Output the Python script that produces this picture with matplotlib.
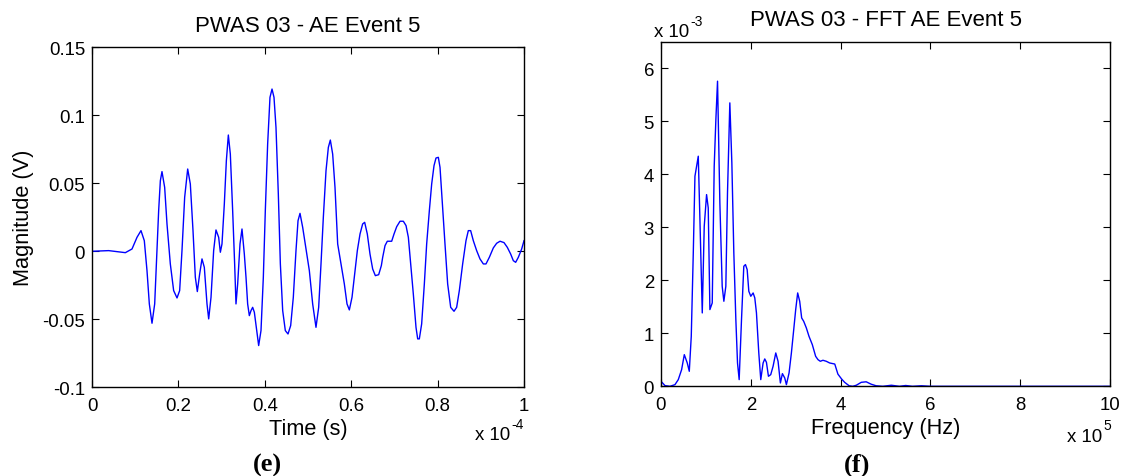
import matplotlib
matplotlib.use("Agg")
import matplotlib.pyplot as plt

# ---------------- data ----------------
# Left: AE waveform, time in units of 1e-4 s, magnitude in V
time_e4 = [0.0, 0.0386, 0.0772, 0.0926, 0.1042, 0.1134, 0.1211, 0.1273, 0.1327, 0.1389,
           0.1451, 0.1505, 0.1543, 0.1582, 0.1620, 0.1682, 0.1736, 0.1813, 0.1890, 0.1968,
           0.2029, 0.2083, 0.2145, 0.2215, 0.2276, 0.2338, 0.2392, 0.2438, 0.2492, 0.2546,
           0.2600, 0.2662, 0.2701, 0.2755, 0.2816, 0.2870, 0.2932, 0.2971, 0.3009, 0.3063,
           0.3110, 0.3156, 0.3202, 0.3256, 0.3302, 0.3333, 0.3372, 0.3426, 0.3472, 0.3526,
           0.3565, 0.3603, 0.3642, 0.3681, 0.3719, 0.3758, 0.3812, 0.3858, 0.3912, 0.3966,
           0.4012, 0.4066, 0.4120, 0.4167, 0.4213, 0.4259, 0.4313, 0.4360, 0.4414, 0.4475,
           0.4537, 0.4599, 0.4660, 0.4722, 0.4769, 0.4815, 0.4877, 0.4954, 0.5031, 0.5108,
           0.5185, 0.5247, 0.5301, 0.5355, 0.5417, 0.5471, 0.5517, 0.5571, 0.5625, 0.5687,
           0.5764, 0.5841, 0.5903, 0.5957, 0.6019, 0.6080, 0.6142, 0.6204, 0.6265, 0.6312,
           0.6373, 0.6435, 0.6497, 0.6559, 0.6636, 0.6698, 0.6729, 0.6783, 0.6836, 0.6937,
           0.6991, 0.7053, 0.7130, 0.7207, 0.7269, 0.7323, 0.7377, 0.7438, 0.7500, 0.7539,
           0.7577, 0.7631, 0.7693, 0.7747, 0.7809, 0.7863, 0.7917, 0.7963, 0.8017, 0.8056,
           0.8110, 0.8171, 0.8233, 0.8303, 0.8380, 0.8441, 0.8503, 0.8580, 0.8657, 0.8711,
           0.8765, 0.8827, 0.8904, 0.8981, 0.9059, 0.9120, 0.9198, 0.9290, 0.9367, 0.9445,
           0.9537, 0.9614, 0.9691, 0.9753, 0.9807, 0.9869, 0.9946, 1.0]
magnitude_v = [0.0, 0.0005, -0.0010, 0.0017, 0.0103, 0.0152, 0.0078, -0.0142, -0.0387, -0.0529,
               -0.0387, 0.0005, 0.0299, 0.0519, 0.0586, 0.0470, 0.0201, -0.0093, -0.0289, -0.0343,
               -0.0289, 0.0005, 0.0397, 0.0605, 0.0495, 0.0152, -0.0191, -0.0296, -0.0167, -0.0056,
               -0.0118, -0.0387, -0.0497, -0.0338, 0.0005, 0.0157, 0.0103, -0.0007, 0.0054, 0.0348,
               0.0666, 0.0855, 0.0715, 0.0299, -0.0093, -0.0387, -0.0240, 0.0054, 0.0164, -0.0020,
               -0.0191, -0.0387, -0.0473, -0.0436, -0.0412, -0.0448, -0.0583, -0.0693, -0.0583, -0.0191,
               0.0299, 0.0789, 0.1132, 0.1193, 0.1132, 0.0911, 0.0421, -0.0093, -0.0436, -0.0583,
               -0.0608, -0.0546, -0.0338, 0.0005, 0.0225, 0.0279, 0.0176, 0.0017, -0.0142, -0.0387,
               -0.0559, -0.0412, -0.0093, 0.0250, 0.0593, 0.0764, 0.0818, 0.0715, 0.0470, 0.0054,
               -0.0093, -0.0240, -0.0387, -0.0431, -0.0338, -0.0167, 0.0005, 0.0127, 0.0201, 0.0213,
               0.0127, -0.0020, -0.0130, -0.0179, -0.0172, -0.0105, -0.0044, 0.0042, 0.0074, 0.0074,
               0.0127, 0.0181, 0.0221, 0.0221, 0.0189, 0.0103, -0.0093, -0.0314, -0.0559, -0.0644,
               -0.0644, -0.0534, -0.0240, 0.0054, 0.0299, 0.0495, 0.0630, 0.0686, 0.0691, 0.0617,
               0.0348, 0.0054, -0.0240, -0.0412, -0.0441, -0.0412, -0.0289, -0.0093, 0.0078, 0.0152,
               0.0152, 0.0078, 0.0005, -0.0056, -0.0093, -0.0093, -0.0044, 0.0025, 0.0059, 0.0074,
               0.0064, 0.0029, -0.0020, -0.0069, -0.0081, -0.0044, 0.0017, 0.0078]

# Right: FFT, frequency in units of 1e5 Hz, amplitude in units of 1e-3
freq_e5 = [0.000, 0.089, 0.200, 0.311, 0.385, 0.459, 0.519, 0.585, 0.630, 0.674,
           0.719, 0.756, 0.793, 0.830, 0.867, 0.919, 0.963, 1.015, 1.052, 1.089,
           1.141, 1.185, 1.222, 1.259, 1.311, 1.363, 1.400, 1.444, 1.481, 1.533,
           1.578, 1.622, 1.667, 1.704, 1.741, 1.793, 1.844, 1.881, 1.919, 1.956,
           2.000, 2.052, 2.089, 2.126, 2.178, 2.222, 2.274, 2.311, 2.348, 2.393,
           2.444, 2.496, 2.556, 2.607, 2.659, 2.704, 2.756, 2.793, 2.852, 2.904,
           2.956, 3.000, 3.044, 3.089, 3.133, 3.178, 3.237, 3.296, 3.370, 3.444,
           3.496, 3.548, 3.607, 3.681, 3.756, 3.870, 3.940, 4.020, 4.090, 4.190,
           4.270, 4.350, 4.460, 4.570, 4.680, 4.790, 4.940, 5.130, 5.310, 5.450,
           5.600, 5.800, 6.000, 10.000]
fft_amp_e3 = [0.094, 0.013, 0.000, 0.031, 0.126, 0.314, 0.597, 0.440, 0.283, 0.943,
              2.516, 3.962, 4.151, 4.340, 3.145, 1.384, 3.019, 3.616, 3.365, 1.447,
              1.572, 4.151, 5.031, 5.755, 3.459, 1.887, 1.604, 1.887, 3.648, 5.346,
              4.214, 2.516, 1.258, 0.440, 0.126, 1.258, 2.264, 2.296, 2.201, 1.792,
              1.698, 1.761, 1.667, 1.384, 0.629, 0.126, 0.440, 0.516, 0.453, 0.189,
              0.220, 0.377, 0.629, 0.472, 0.063, 0.239, 0.157, 0.031, 0.252, 0.629,
              1.069, 1.447, 1.761, 1.604, 1.289, 1.226, 1.101, 0.943, 0.786, 0.566,
              0.503, 0.472, 0.491, 0.472, 0.440, 0.420, 0.230, 0.140, 0.075, 0.010,
              0.000, 0.020, 0.075, 0.085, 0.040, 0.010, 0.000, 0.020, 0.000, 0.015,
              0.000, 0.010, 0.000, 0.000]

left_xticks = [0, 0.2, 0.4, 0.6, 0.8, 1]
left_xticklabels = ["0", "0.2", "0.4", "0.6", "0.8", "1"]
left_yticks = [-0.1, -0.05, 0, 0.05, 0.1, 0.15]
left_yticklabels = ["-0.1", "-0.05", "0", "0.05", "0.1", "0.15"]
right_xticks = [0, 2, 4, 6, 8, 10]
right_xticklabels = ["0", "2", "4", "6", "8", "10"]
right_yticks = [0, 1, 2, 3, 4, 5, 6]
right_yticklabels = ["0", "1", "2", "3", "4", "5", "6"]

# ---------------- figure ----------------
W, H = 1124, 477
FONT = "Liberation Sans"
plt.rcParams["font.family"] = [FONT, "DejaVu Sans"]
fig = plt.figure(figsize=(W / 100, H / 100), dpi=100)

TICK_FS = 13.4
LABEL_FS = 15.7
TITLE_FS = 16.0
EXP_FS = 10.0
BLUE = "#0000ff"


def px(x, y):
    return x / W, 1 - y / H


def style(ax):
    ax.tick_params(direction="in", top=True, right=True, length=5, width=0.8,
                   labelsize=TICK_FS, colors="black")
    ax.tick_params(axis="x", pad=7)
    ax.tick_params(axis="y", pad=5)
    for s in ax.spines.values():
        s.set_linewidth(1.0)
        s.set_color("black")


# Left axes
axL = fig.add_axes([92 / W, 1 - 388.3 / H, (524 - 92) / W, (388.3 - 48.3) / H])
axL.plot(time_e4, magnitude_v, color=BLUE, lw=1.0)
axL.set_xlim(0, 1)
axL.set_ylim(-0.1, 0.15)
axL.set_xticks(left_xticks)
axL.set_xticklabels(left_xticklabels)
axL.set_yticks(left_yticks)
axL.set_yticklabels(left_yticklabels)
style(axL)
axL.set_title("PWAS 03 - AE Event 5", fontsize=TITLE_FS, pad=12)
axL.set_xlabel("Time (s)", fontsize=LABEL_FS, labelpad=3)
axL.set_ylabel("Magnitude (V)", fontsize=LABEL_FS, labelpad=6)

# Right axes
axR = fig.add_axes([661 / W, 1 - 387.3 / H, (1110 - 661) / W, (387.3 - 42.7) / H])
axR.plot(freq_e5, fft_amp_e3, color=BLUE, lw=1.0)
axR.set_xlim(0, 10)
axR.set_ylim(0, 6.5)
axR.set_xticks(right_xticks)
axR.set_xticklabels(right_xticklabels)
axR.set_yticks(right_yticks)
axR.set_yticklabels(right_yticklabels)
style(axR)
axR.set_title("PWAS 03 - FFT AE Event 5", fontsize=TITLE_FS, pad=12)
axR.set_xlabel("Frequency (Hz)", fontsize=LABEL_FS, labelpad=3)

# exponent annotations
def exp_label(x_right, y_base, exp, y_exp_base):
    fig.text(*px(x_right, y_base), "x 10", ha="right", va="baseline", fontsize=TICK_FS)
    fig.text(*px(x_right + 1, y_exp_base), exp, ha="left", va="baseline", fontsize=EXP_FS)

exp_label(510, 440, "-4", 429)
exp_label(1102, 442, "5", 430)
exp_label(689, 37, "-3", 26)

# captions
fig.text(*px(267, 465), "(e)", ha="center", va="center", fontsize=19,
         fontweight="bold", family=["Liberation Serif", "DejaVu Serif"])
fig.text(*px(857, 465), "(f)", ha="center", va="center", fontsize=19,
         fontweight="bold", family=["Liberation Serif", "DejaVu Serif"])

fig.savefig("out.png", dpi=100)
